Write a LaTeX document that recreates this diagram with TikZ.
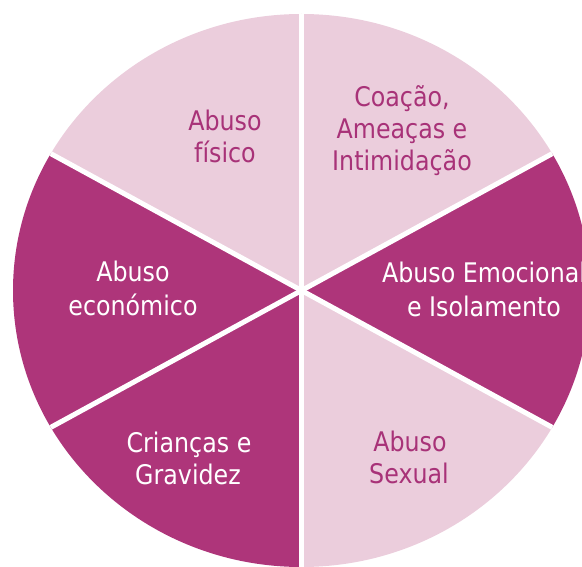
\documentclass[tikz,border=0pt]{standalone}
\usepackage{fontspec}
\setmainfont{DejaVu Sans}[FakeStretch=0.88]
\definecolor{darkseg}{RGB}{174,53,122}
\definecolor{lightseg}{RGB}{235,205,220}
\definecolor{ltext}{RGB}{168,50,120}
\begin{document}
\begin{tikzpicture}[x=1pt,y=-1pt,
  lab/.style={font=\fontsize{27}{33}\selectfont, inner sep=0pt, anchor=base},
  onlight/.style={lab,text=ltext},
  ondark/.style={lab,text=white},
  gap/.style={white,line width=5pt}]
\useasboundingbox (0,0) rectangle (582,567);
\coordinate (c) at (301.5,290.5);
\coordinate (top) at (301.5,-600);
\coordinate (bot) at (301.5,1200);
\coordinate (ur) at (1054.5,-120.5);
\coordinate (ul) at (-451.5,-120.5);
\coordinate (lr) at (1054.5,701.5);
\coordinate (ll) at (-451.5,701.5);
\begin{scope}
  \clip (0,0) rectangle (582,567);
  \clip (c) ellipse [x radius=288.5pt, y radius=276.5pt];
  \fill[lightseg] (c) -- (top) -- (ul) -- cycle;
  \fill[lightseg] (c) -- (top) -- (ur) -- cycle;
  \fill[darkseg] (c) -- (ur) -- (lr) -- cycle;
  \fill[lightseg] (c) -- (lr) -- (bot) -- cycle;
  \fill[darkseg] (c) -- (bot) -- (ll) -- cycle;
  \fill[darkseg] (c) -- (ll) -- (ul) -- cycle;
  \draw[gap] (c) -- (top);
  \draw[gap] (c) -- (bot);
  \draw[gap] (c) -- (ur);
  \draw[gap] (c) -- (ul);
  \draw[gap] (c) -- (lr);
  \draw[gap] (c) -- (ll);
\end{scope}
\node[onlight] (fis1) at (225,131) {Abuso};
\node[onlight] (fis2) at (225,163) {físico};
\node[onlight] (coa1) at (402,107) {Coação,};
\node[onlight] (coa2) at (402,139) {Ameaças e};
\node[onlight] (coa3) at (402,171) {Intimidação};
\node[ondark] (emo1) at (484,283) {Abuso Emocional};
\node[ondark] (emo2) at (484,317) {e Isolamento};
\node[ondark] (eco1) at (133,282) {Abuso};
\node[ondark] (eco2) at (133,316) {económico};
\node[ondark] (cri1) at (189,452) {Crianças e};
\node[ondark] (cri2) at (188,484) {Gravidez};
\node[onlight] (sex1) at (410,451) {Abuso};
\node[onlight] (sex2) at (409,483) {Sexual};
\end{tikzpicture}
\end{document}
